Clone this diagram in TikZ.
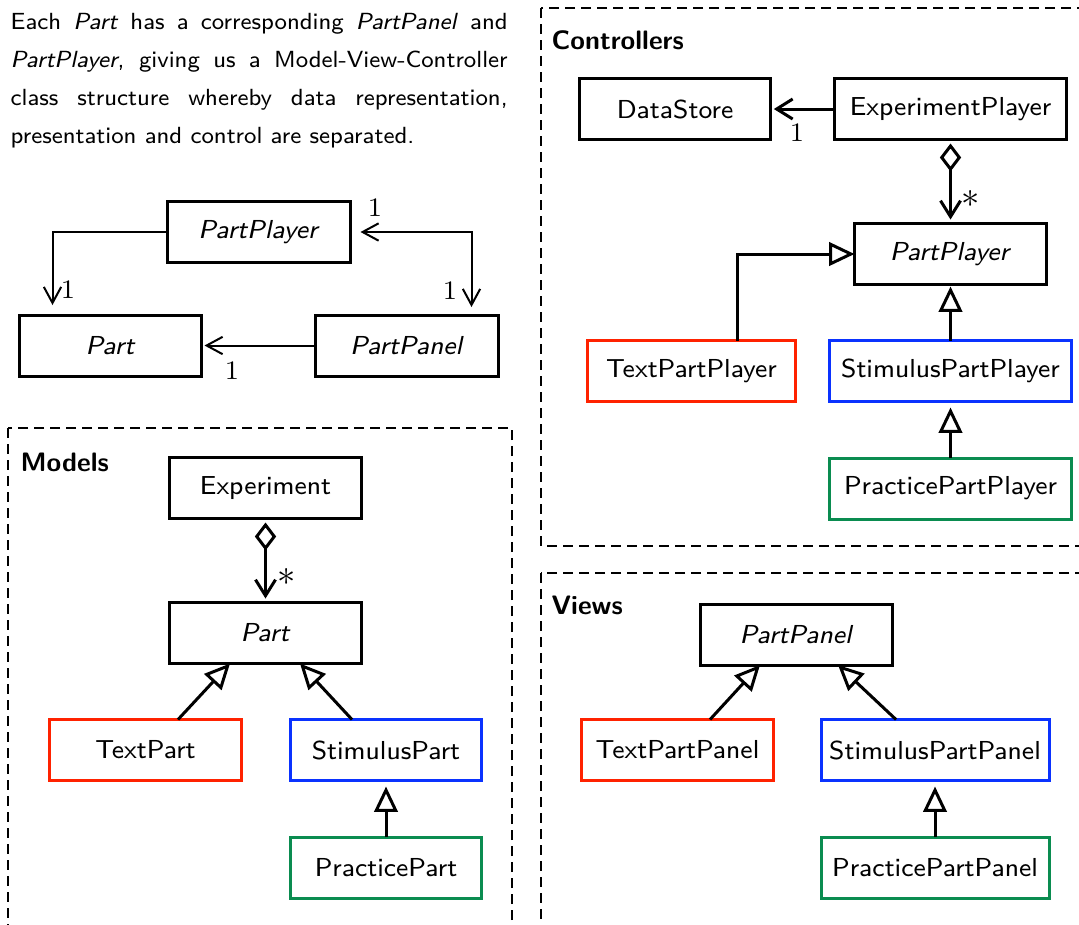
\documentclass[tikz,border=0pt]{standalone}
\usepackage{fontspec}
\usetikzlibrary{arrows.meta}
\definecolor{cred}{HTML}{FF2200}
\definecolor{cblue}{HTML}{0A32FF}
\definecolor{cgreen}{HTML}{0A8C50}
\begin{document}
\begin{tikzpicture}[x=0.3pt,y=-0.3pt,
  txt/.style={font=\fontsize{7.8}{9.4}\selectfont\sffamily},
  cls/.style={txt, draw, line width=0.9pt, inner sep=0pt, outer sep=0pt, minimum height=18.3pt, minimum width=57.6pt},
  title/.style={font=\fontsize{8}{9.6}\selectfont\sffamily\bfseries, anchor=base west, inner sep=0pt},
  mult/.style={inner sep=0pt, font=\fontsize{8}{9.6}\selectfont},
  star/.style={inner sep=0pt, font=\fontsize{10.5}{12}\selectfont},
  frame/.style={line width=0.75pt, dash pattern=on 3pt off 1.8pt},
  thinassoc/.style={line width=0.6pt, -{Straight Barb[length=4.8pt,width=5.2pt]}},
  assoc/.style={line width=0.9pt, -{Straight Barb[length=4.8pt,width=6pt]}},
  aggr/.style={line width=0.9pt, {Diamond[open,length=8.4pt,width=6.4pt]}-{Straight Barb[length=4.8pt,width=6pt]}},
  gen/.style={line width=0.9pt, -{Triangle[open,length=7.6pt,width=7pt]}}]
\useasboundingbox (0,0) rectangle (1079,924);
\clip (0,0) rectangle (1079,924);

% paragraph
\node[anchor=north west, inner sep=0pt, text width=149.1pt, align=justify, font=\fontsize{7}{11.4}\selectfont\sffamily] (para) at (10,13)
{\hyphenpenalty=10000 Each \textit{Part} has a corresponding \textit{PartPanel} and\linebreak \textit{PartPlayer}, giving us a Model-View-Controller\linebreak class structure whereby data representation,\linebreak presentation and control are separated.};

% frames
\draw[frame] (541,8) rectangle (1100,546);
\draw[frame] (8,428) rectangle (512,950);
\draw[frame] (541,573) rectangle (1100,950);

% top-left overview
\node[cls, minimum width=54.9pt] (tPP) at (259,232) {\textit{PartPlayer}};
\node[cls, minimum width=54.6pt] (tP) at (110.5,345.5) {\textit{Part}};
\node[cls, minimum width=54.9pt] (tPPn) at (407,345.5) {\textit{PartPanel}};
\draw[thinassoc, shorten >=3pt] (tPP.west) -| ([xshift=9.9pt]tP.north west);
\draw[thinassoc, shorten >=0.9pt] (tPPn.west) -- (tP.east);
\draw[thinassoc, {Straight Barb[length=4.8pt,width=5.2pt]}-{Straight Barb[length=4.8pt,width=5.2pt]}, shorten <=3pt, shorten >=2.4pt] (tPP.east) -| ([xshift=-8.1pt]tPPn.north east);
\node[mult] (m1) at (68,290) {$1$};
\node[mult] (m2) at (232,371) {$1$};
\node[mult] (m3) at (375,208) {$1$};
\node[mult] (m4) at (450,291) {$1$};

% controllers
\node[title] (tc) at (551,49) {Controllers};
\node[cls, minimum width=57.3pt] (DS) at (675,109) {DataStore};
\node[cls, minimum width=69.6pt] (EP) at (950.5,109) {ExperimentPlayer};
\node[cls] (cPP) at (950.5,254) {\textit{PartPlayer}};
\node[cls, draw=cred, minimum width=62.4pt] (TPP) at (691.5,371) {TextPartPlayer};
\node[cls, draw=cblue, minimum width=72.6pt] (SPP) at (950.5,371) {StimulusPartPlayer};
\node[cls, draw=cgreen, minimum width=72.6pt] (PPP) at (950.5,488.5) {PracticePartPlayer};
\draw[assoc, shorten >=1pt] (EP.west) -- (DS.east);
\node[mult] (m5) at (797,133) {$1$};
\draw[aggr, shorten <=1.2pt, shorten >=1.2pt] (EP.south) -- (cPP.north);
\node[star] (m6) at (971,199) {$\ast$};
\draw[gen] ([xshift=13.65pt]TPP.north) |- (cPP.west);
\draw[gen, shorten >=0.6pt] (SPP.north) -- (cPP.south);
\draw[gen, shorten >=1.8pt] (PPP.north) -- (SPP.south);

% models
\node[title] (tm) at (20,471) {Models};
\node[cls] (Exp) at (265.5,488) {Experiment};
\node[cls] (mP) at (265.5,633) {\textit{Part}};
\node[cls, draw=cred] (TP) at (145.5,750) {TextPart};
\node[cls, draw=cblue, minimum width=57.3pt] (SP) at (386,750) {StimulusPart};
\node[cls, draw=cgreen, minimum width=57.3pt] (PP) at (386,867.5) {PracticePart};
\draw[aggr, shorten <=1.2pt, shorten >=1.2pt] (Exp.south) -- (mP.north);
\node[star] (m7) at (287,577) {$\ast$};
\draw[gen] ([xshift=9.75pt]TP.north) -- ([xshift=-10.65pt]mP.south);
\draw[gen] ([xshift=-10.2pt]SP.north) -- ([xshift=10.35pt]mP.south);
\draw[gen, shorten >=1.8pt] (PP.north) -- (SP.south);

% views
\node[title] (tv) at (551,614) {Views};
\node[cls] (vPP) at (796.5,634.5) {\textit{PartPanel}};
\node[cls, draw=cred] (TPPn) at (677.5,750) {TextPartPanel};
\node[cls, draw=cblue, minimum width=68.4pt] (SPPn) at (935,750) {StimulusPartPanel};
\node[cls, draw=cgreen, minimum width=68.4pt] (PPPn) at (935,867.5) {PracticePartPanel};
\draw[gen] ([xshift=9.75pt]TPPn.north) -- ([xshift=-10.95pt]vPP.south);
\draw[gen] ([xshift=-11.7pt]SPPn.north) -- ([xshift=12.45pt]vPP.south);
\draw[gen, shorten >=1.8pt] (PPPn.north) -- (SPPn.south);
\end{tikzpicture}
\end{document}
